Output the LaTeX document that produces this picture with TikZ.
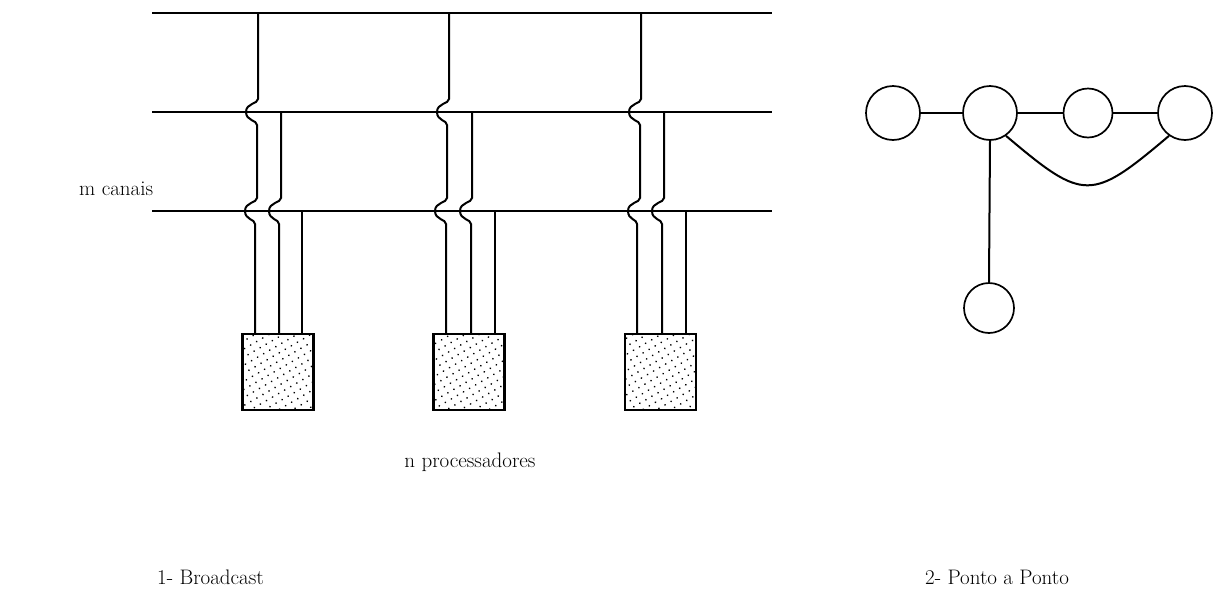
\documentclass[tikz,border=0pt]{standalone}
\usetikzlibrary{patterns.meta}
\begin{document}
\begin{tikzpicture}[x=1pt,y=-1pt,
  wire/.style={line width=2pt},
  chan/.style={line width=1.8pt},
  proc/.style={draw,line width=2.2pt,minimum width=71pt,minimum height=76pt,inner sep=0pt,
    pattern={Dots[distance=7pt,radius=0.95pt,angle=30]}},
  nd/.style={draw,circle,line width=1.7pt,inner sep=0pt},
  lbl/.style={font=\fontsize{21}{25}\selectfont,inner sep=0pt}]
\useasboundingbox (0,0) rectangle (1216,611);
% channels
\coordinate (h1a) at (152,13);  \coordinate (h1b) at (772,13);
\coordinate (h2a) at (152,112); \coordinate (h2b) at (772,112);
\coordinate (h3a) at (152,211); \coordinate (h3b) at (772,211);
\draw[chan] (h1a) -- (h1b);
\draw[chan] (h2a) -- (h2b);
\draw[chan] (h3a) -- (h3b);
% processors
\node[proc] (p1) at (278,372) {};
\node[proc] (p2) at (469,372) {};
\node[proc] (p3) at (660.5,372) {};
% bump: vertical line at x crossing horizontal at y, bulging left by 11
\def\bmp#1#2#3{-- (#1,#2-13) .. controls (#1,#2-8) and (#1-12,#2-9) .. (#1-12,#2) .. controls (#1-12,#2+9) and (#3,#2+8) .. (#3,#2+13)}
% group 1
\coordinate (a1) at (258,13);
\draw[wire] (a1) \bmp{258}{112}{257} \bmp{257}{211}{255} -- (p1.north -| 255,0);
\coordinate (a2) at (281,112);
\draw[wire] (a2) \bmp{281}{211}{279} -- (p1.north -| 279,0);
\coordinate (a3) at (302,211);
\draw[wire] (a3) -- (p1.north -| 302,0);
% group 2
\coordinate (b1) at (449,13);
\draw[wire] (b1) \bmp{449}{112}{447} \bmp{447}{211}{446} -- (p2.north -| 446,0);
\coordinate (b2) at (472,112);
\draw[wire] (b2) \bmp{472}{211}{471} -- (p2.north -| 471,0);
\coordinate (b3) at (495,211);
\draw[wire] (b3) -- (p2.north -| 495,0);
% group 3
\coordinate (c1) at (641,13);
\draw[wire] (c1) \bmp{641}{112}{640} \bmp{640}{211}{637} -- (p3.north -| 637,0);
\coordinate (c2) at (664,112);
\draw[wire] (c2) \bmp{664}{211}{662} -- (p3.north -| 662,0);
\coordinate (c3) at (686,211);
\draw[wire] (c3) -- (p3.north -| 686,0);
% labels
\node[lbl,anchor=west] (mc) at (79,189) {m canais};
\node[lbl] (np) at (470,462) {n processadores};
\node[lbl,anchor=west] (t1) at (157,577) {1- Broadcast};
\node[lbl,anchor=west] (t2) at (925,577) {2- Ponto a Ponto};
% point to point graph
\node[nd,minimum size=54pt] (n1) at (893,113) {};
\node[nd,minimum size=54pt] (n2) at (990,113) {};
\node[nd,minimum size=49pt] (n3) at (1088,113) {};
\node[nd,minimum size=54pt] (n4) at (1185,113) {};
\node[nd,minimum size=50pt] (n5) at (989,308) {};
\draw[wire] (n1) -- (n2);
\draw[wire] (n2) -- (n3);
\draw[wire] (n3) -- (n4);
\draw[wire] (n2.south) -- (n5.north);
\draw[wire] (n2.-55) .. controls +(78,66) and +(-78,66) .. (n4.-125);
\end{tikzpicture}
\end{document}
